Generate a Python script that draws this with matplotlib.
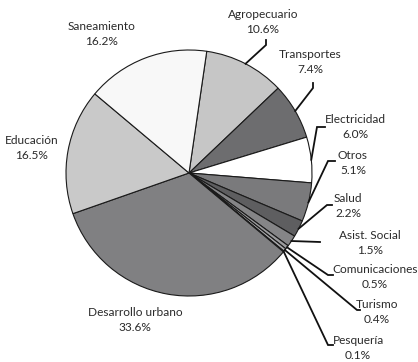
import matplotlib.pyplot as plt
import numpy as np

# Data (clockwise from the top)
sectors = ['Agropecuario', 'Transportes', 'Electricidad', 'Otros', 'Salud',
           'Asist. Social', 'Comunicaciones', 'Turismo', 'Pesquería',
           'Desarrollo urbano', 'Educación', 'Saneamiento']
shares = [10.6, 7.4, 6.0, 5.1, 2.2, 1.5, 0.5, 0.4, 0.1, 33.6, 16.5, 16.2]
colors = ['#c6c6c6', '#6d6d6f', '#ffffff', '#7a7a7c', '#5e5e60', '#858587',
          '#9c9c9e', '#a8a8aa', '#b4b4b6', '#808082', '#c9c9c9', '#f8f8f8']

# Layout (pixel coords, y down): label centre, elbow point, tail end (None = no leader)
W, H = 418, 362
cx, cy, R = 189, 173, 123
label_xy = [(263, 22), (310, 62), (355, 127), (353, 163), (348, 206),
            (370, 243), (375, 277), (377, 312), (358, 348),
            (135, 320), (32, 148), (102, 34)]
elbow = [(266, 45), (313, 88), (317, 127), (328, 161), (327, 205),
         None, (328, 275), (357, 310), (328, 345),
         None, None, None]
tail = [(266, 40), (313, 83), (325, 127), (335, 161), (332, 205),
        (320, 242), (333, 275), (360, 310), (333, 345),
        None, None, None]

plt.rcParams['font.family'] = ['Lato', 'DejaVu Sans']

fig = plt.figure(figsize=(W / 100, H / 100), dpi=100)
ax = fig.add_axes([0, 0, 1, 1])

wedges, _ = ax.pie(shares, colors=colors, startangle=81.7, counterclock=False,
                   center=(cx, H - cy), radius=R,
                   wedgeprops=dict(edgecolor='#1a1a1a', linewidth=0.8))

for w, name, val, (lx, ly), el, tl in zip(wedges, sectors, shares, label_xy, elbow, tail):
    ax.text(lx, H - ly, f'{name}\n{val:.1f}%', ha='center', va='center',
            fontsize=8.6, color='#2a2a2a', linespacing=1.5)
    if tl is None:
        continue
    mid = np.deg2rad((w.theta1 + w.theta2) / 2)
    x0 = cx + R * np.cos(mid)
    y0 = cy - R * np.sin(mid)
    pts = [(x0, y0)] + ([el] if el else []) + [tl]
    ax.plot([p[0] for p in pts], [H - p[1] for p in pts], color='#111111', lw=1.3,
            solid_joinstyle='miter')

ax.set_xlim(0, W)
ax.set_ylim(0, H)
ax.set_aspect('auto')
ax.axis('off')

fig.savefig('out.png', dpi=100)
